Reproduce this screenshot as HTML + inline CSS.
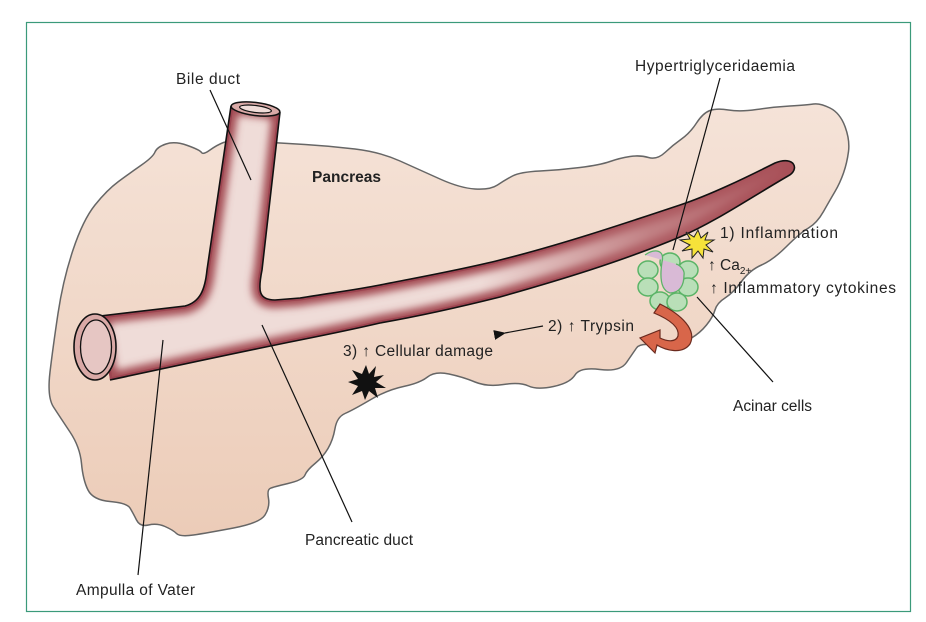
<!DOCTYPE html>
<html><head><meta charset="utf-8"><style>
html,body{margin:0;padding:0;background:#fff}
svg{display:block}
text{font-family:"Liberation Sans",sans-serif;font-size:15.5px;fill:#222}
</style></head><body>
<svg width="926" height="622" viewBox="0 0 926 622">
<defs>
<linearGradient id="pg" x1="0" y1="0" x2="0" y2="1">
<stop offset="0" stop-color="#f5e3d8"/><stop offset="1" stop-color="#ecccb8"/></linearGradient>
<linearGradient id="tipg" gradientUnits="userSpaceOnUse" x1="480" y1="0" x2="790" y2="0">
<stop offset="0" stop-color="#b26268" stop-opacity="0"/><stop offset="0.55" stop-color="#b26268" stop-opacity="0.75"/><stop offset="1" stop-color="#a85058" stop-opacity="0.95"/></linearGradient>
<filter id="blur" x="-20%" y="-50%" width="140%" height="200%"><feGaussianBlur stdDeviation="4"/></filter>
<path id="ductp" d="M100,316 L185,306 C200,302 205,290 207,270 L231,106 L280,112 L262,270 C258,290 258,300 275,300 L300,298 C330,293 355,290 380,285 C420,277 460,270 500,260 C560,245 620,225 680,205 C710,195 745,178 775,163 C795,155 800,170 788,176 C750,198 715,222 680,237 C620,262 560,280 500,297 C460,307 420,316 380,323 C350,330 325,335 300,340 C240,352 175,366 110,380 Z"/>
<clipPath id="dc"><use href="#ductp"/></clipPath>
<marker id="ah" markerWidth="12" markerHeight="10" refX="1" refY="5" orient="auto" markerUnits="userSpaceOnUse"><path d="M12,0 L0,5 L12,10 Z" fill="#111"/></marker>
</defs>
<rect x="26.5" y="22.5" width="884" height="589" fill="#fff" stroke="#3b9a7a" stroke-width="1.2"/>
<!-- pancreas -->
<path d="M53.5,407 Q47,397 50,372 Q53,347 58,313.5 Q63,280 73,250 Q83,220 95,205 Q107,190 118.5,181.5 Q130,173 141.5,165 Q153,157 155,152 Q157,147 166,144 Q175,141 187.5,145.5 Q200,150 201.5,152.5 Q203,155 210,150 Q217,145 223.5,142.5 Q230,140 255,141.5 Q280,143 305,144.5 Q330,146 355,149 Q380,152 400,161 Q420,170 440,179 Q460,188 475,189 Q490,190 497.5,185 Q505,180 512.5,176 Q520,172 540,171 Q560,170 580,167.5 Q600,165 610,161.5 Q620,158 630,156.5 Q640,155 648.5,157.5 Q657,160 665,152.5 Q673,145 681.5,139 Q690,133 696.5,123 Q703,113 710,110.5 Q717,108 728.5,110 Q740,112 756.5,109.5 Q773,107 790,106 Q807,105 813.5,104 Q820,103 830,108 Q840,113 845,126.5 Q850,140 848.5,151.5 Q847,163 843.5,173 Q840,183 835,191.5 Q830,200 823.5,211.5 Q817,223 808.5,228 Q800,233 786.5,246.5 Q773,260 761.5,265 Q750,270 741.5,281.5 Q733,293 725,298 Q717,303 715,310 Q713,317 706.5,325 Q700,333 691.5,338 Q683,343 675,345 Q667,347 653.5,345 Q640,343 636.5,348 Q633,353 626.5,362.5 Q620,372 600,369.5 Q580,367 575,375 Q570,383 553.5,386.5 Q537,390 528.5,386 Q520,382 503.5,384.5 Q487,387 475,382 Q463,377 449,374 Q435,371 427.5,377 Q420,383 403.5,386.5 Q387,390 370,400 Q353,410 345,413.5 Q337,417 335,428.5 Q333,440 328,448.5 Q323,457 315,463.5 Q307,470 305,475 Q303,480 288,483.5 Q273,487 270,488.5 Q267,490 268.5,498.5 Q270,507 265,515 Q260,523 233.5,528 Q207,533 193.5,535 Q180,537 176.5,533.5 Q173,530 165,526.5 Q157,523 148.5,525 Q140,527 136.5,520 Q133,513 130,508 Q127,503 110,501.5 Q93,500 88,490 Q83,480 81.5,463.5 Q80,447 70,432 Q60,417 53.5,407 Z" fill="url(#pg)" stroke="#666" stroke-width="1.5"/>
<!-- duct -->
<g clip-path="url(#dc)">
<use href="#ductp" fill="#efdcd8"/>
<use href="#ductp" fill="none" stroke="#a44d55" stroke-width="16" filter="url(#blur)"/>
<use href="#ductp" fill="none" stroke="#9c4450" stroke-width="5"/>
<path d="M480,240 L800,140 L800,200 L480,330 Z" fill="url(#tipg)"/>
</g>
<path d="M100,316 L185,306 C200,302 205,290 207,270 L231,106 M280,112 L262,270 C258,290 258,300 275,300 L300,298 C330,293 355,290 380,285 C420,277 460,270 500,260 C560,245 620,225 680,205 C710,195 745,178 775,163 C795,155 800,170 788,176 C750,198 715,222 680,237 C620,262 560,280 500,297 C460,307 420,316 380,323 C350,330 325,335 300,340 C240,352 175,366 110,380" fill="none" stroke="#111" stroke-width="1.6"/>
<ellipse cx="255.5" cy="109" rx="24.5" ry="6.5" transform="rotate(7 255.5 109)" fill="#d9a9a6" stroke="#111" stroke-width="1.5"/>
<ellipse cx="255.5" cy="109" rx="16" ry="3.5" transform="rotate(7 255.5 109)" fill="#f0dcd8" stroke="#111" stroke-width="1.2"/>
<!-- ampulla opening -->
<ellipse cx="95" cy="347" rx="21" ry="33" fill="#d9a9a6" stroke="#111" stroke-width="1.6"/>
<ellipse cx="96" cy="347" rx="15.5" ry="27" fill="#e6c6c3" stroke="#111" stroke-width="1.3"/>
<!-- acinar cells -->
<g fill="#b9dfb8" stroke="#5bb467" stroke-width="1.5">
<ellipse cx="648" cy="270" rx="10" ry="9"/><ellipse cx="648" cy="287" rx="10" ry="9"/>
<ellipse cx="670" cy="262" rx="10" ry="9"/><ellipse cx="688" cy="270" rx="10" ry="9"/>
<ellipse cx="688" cy="287" rx="10" ry="9"/><ellipse cx="660" cy="301" rx="10" ry="9"/>
<ellipse cx="677" cy="302" rx="10" ry="9"/>
</g>
<path d="M645,255 C655,248 665,250 662,262 C660,275 660,290 670,293 C680,293 684,285 684,275 C685,270 680,265 676,264" fill="#d9bad6" stroke="#5bb467" stroke-width="1.3"/>
<!-- curved orange arrow -->
<path d="M660,304 C682,315 697,330 690,344 C682,355 665,350 657,345 L655,353 L640,338 L660,330 L660,338 C668,342 676,342 678,336 C680,326 666,318 654,313 Z" fill="#d8664a" stroke="#6b2a1e" stroke-width="1.2"/>
<!-- stars -->
<polygon points="698,230 701,238 708,232 705,240 714,240 706,245 713,252 704,249 703,258 698,251 692,258 692,249 682,251 690,245 680,240 690,239 686,232 694,237" fill="#f6e23a" stroke="#222" stroke-width="1"/>
<polygon points="366,365 369,374 376,366 374,377 384,375 376,382 386,388 375,388 378,398 369,391 365,400 362,391 352,395 358,386 348,382 358,379 352,370 362,374" fill="#111"/>
<!-- leader lines -->
<g stroke="#111" stroke-width="1.2" fill="none">
<line x1="210" y1="90" x2="251" y2="180"/>
<line x1="720" y1="78" x2="673" y2="250"/>
<line x1="697" y1="297" x2="773" y2="382"/>
<line x1="262" y1="325" x2="352" y2="522"/>
<line x1="163" y1="340" x2="138" y2="575"/>
<line x1="543" y1="326" x2="505" y2="333" marker-end="url(#ah)"/>
</g>
<!-- labels -->
<text x="176" y="84" textLength="64">Bile duct</text>
<text x="312" y="182" style="font-weight:bold" textLength="69">Pancreas</text>
<text x="635" y="71" textLength="160">Hypertriglyceridaemia</text>
<text x="720" y="238" textLength="118">1) Inflammation</text>
<text x="708" y="270">↑ Ca<tspan font-size="10" dy="4">2+</tspan></text>
<text x="710" y="293" textLength="186">↑ Inflammatory cytokines</text>
<text x="548" y="331" textLength="86">2) ↑ Trypsin</text>
<text x="343" y="356" textLength="150">3) ↑ Cellular damage</text>
<text x="733" y="411" textLength="79">Acinar cells</text>
<text x="305" y="545" textLength="108">Pancreatic duct</text>
<text x="76" y="595" textLength="119">Ampulla of Vater</text>
</svg>
</body></html>
